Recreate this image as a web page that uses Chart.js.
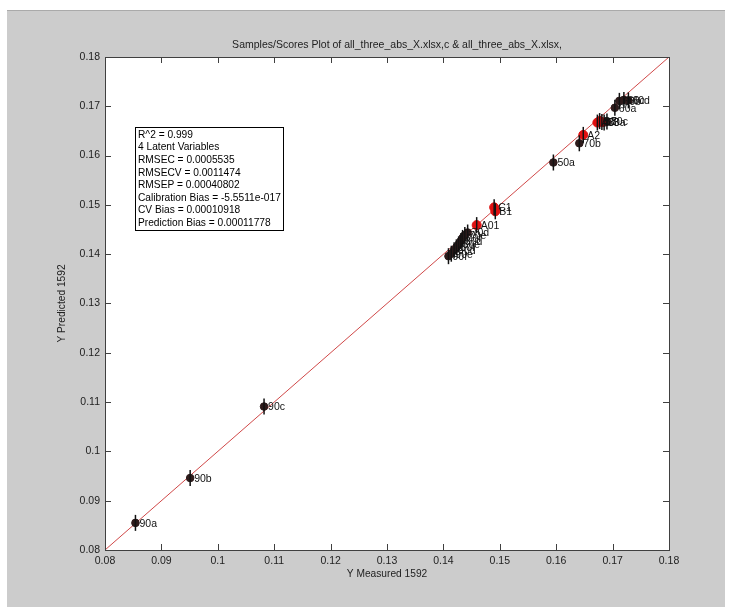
<!DOCTYPE html>
<html>
<head>
<meta charset="utf-8">
<script src="https://cdn.jsdelivr.net/npm/chart.js@4/dist/chart.umd.min.js"></script>
<style>
  body { margin: 0; background: #fff; }
  canvas { display: block; }
</style>
</head>
<body>
<canvas id="pls_chart" width="732" height="610"></canvas>
<script>
// calibration samples (black)
var cal_measured  = [0.0854, 0.0951, 0.1082, 0.1409, 0.1414, 0.1419, 0.1423, 0.1427, 0.1431, 0.1434, 0.1438, 0.1443, 0.1595, 0.1641, 0.1685, 0.1690, 0.1704, 0.1712, 0.1720, 0.1728]
var cal_predicted = [0.0855, 0.0946, 0.1091, 0.1396, 0.1401, 0.1408, 0.1414, 0.1420, 0.1427, 0.1433, 0.1439, 0.1444, 0.1586, 0.1625, 0.1667, 0.1669, 0.1697, 0.1711, 0.1713, 0.1712]
var cal_labels    = ["90a", "90b", "90c", "90f", "90e", "90d", "80f", "80e", "80d", "70f", "70e", "70d", "50a", "70b", "70a", "70c", "60a", "60b", "60c", "60d"]

// test samples (red)
var test_measured  = [0.1459, 0.1492, 0.1490, 0.1648, 0.1673, 0.1677, 0.1681]
var test_predicted = [0.1459, 0.1487, 0.1495, 0.1642, 0.1667, 0.1670, 0.1668]
var test_labels    = ["A01", "B1", "C1", "A2", "A3", "B3", "C3"]

var stats_lines = ["R^2 = 0.999", "4 Latent Variables", "RMSEC = 0.0005535", "RMSECV = 0.0011474",
  "RMSEP = 0.00040802", "Calibration Bias = -5.5511e-017", "CV Bias = 0.00010918", "Prediction Bias = 0.00011778"]

var axis_ticks = [0.08, 0.09, 0.1, 0.11, 0.12, 0.13, 0.14, 0.15, 0.16, 0.17, 0.18]
var fit_line = [0.08, 0.18]

var FONT = "Liberation Sans, Arial, sans-serif"

function toPoints(xs, ys) {
  return xs.map(function (x, i) { return { x: x, y: ys[i] } })
}

var calPts = toPoints(cal_measured, cal_predicted)
var testPts = toPoints(test_measured, test_predicted)

const figurePlugin = {
  id: "figure",
  beforeDraw(chart) {
    const ctx = chart.ctx
    const a = chart.chartArea
    ctx.save()
    ctx.fillStyle = "#fff"
    ctx.fillRect(0, 0, chart.width, chart.height)
    ctx.fillStyle = "#cccccc"
    ctx.fillRect(7, 10, 718, 597)
    ctx.strokeStyle = "#aaa"
    ctx.beginPath(); ctx.moveTo(7, 10.5); ctx.lineTo(725, 10.5); ctx.stroke()
    ctx.fillStyle = "#fff"
    ctx.fillRect(a.left, a.top, a.right - a.left, a.bottom - a.top)
    ctx.restore()
  },
  afterDraw(chart) {
    const ctx = chart.ctx
    const a = chart.chartArea
    const xs = chart.scales.x, ys = chart.scales.y
    ctx.save()
    // axes box
    ctx.strokeStyle = "#404040"
    ctx.lineWidth = 1
    ctx.strokeRect(a.left + 0.5, a.top + 0.5, a.right - a.left, a.bottom - a.top)
    // inward tick marks
    ctx.beginPath()
    axis_ticks.forEach(function (t) {
      var px = Math.round(xs.getPixelForValue(t)) + 0.5
      ctx.moveTo(px, a.bottom); ctx.lineTo(px, a.bottom - 6)
      ctx.moveTo(px, a.top); ctx.lineTo(px, a.top + 6)
      var py = Math.round(ys.getPixelForValue(t)) + 0.5
      ctx.moveTo(a.left, py); ctx.lineTo(a.left + 6, py)
      ctx.moveTo(a.right, py); ctx.lineTo(a.right - 6, py)
    })
    ctx.stroke()

    // title
    ctx.fillStyle = "#222"
    ctx.font = "10.5px " + FONT
    ctx.textAlign = "center"
    ctx.textBaseline = "middle"
    ctx.fillText("Samples/Scores Plot of all_three_abs_X.xlsx,c & all_three_abs_X.xlsx,", (a.left + a.right) / 2 + 10, 45)

    // point labels
    ctx.textAlign = "left"
    ctx.fillStyle = "#111"
    ctx.font = "10.5px " + FONT
    var lab = function (di, labels) {
      chart.getDatasetMeta(di).data.forEach(function (el, i) {
        ctx.fillText(labels[i], el.x + 4, el.y + 1)
      })
    }
    lab(1, test_labels)
    lab(2, cal_labels)

    // stats box
    var bx = a.left + 30, by = a.top + 70
    ctx.fillStyle = "#fff"
    ctx.fillRect(bx, by, 148, 103)
    ctx.strokeStyle = "#000"
    ctx.strokeRect(bx + 0.5, by + 0.5, 148, 103)
    ctx.fillStyle = "#000"
    ctx.font = "10.2px " + FONT
    stats_lines.forEach(function (s, i) {
      ctx.fillText(s, bx + 3, by + 8 + i * 12.6)
    })
    ctx.restore()
  }
}

const ctx = document.getElementById("pls_chart").getContext("2d")
const myChart = new Chart(ctx, {
  type: "scatter",
  data: {
    datasets: [
      {
        // error bars
        data: calPts.concat(testPts),
        pointStyle: "line",
        rotation: 90,
        radius: 8,
        borderColor: "#111",
        borderWidth: 1.5,
        backgroundColor: "#111"
      },
      {
        data: testPts,
        pointStyle: "circle",
        radius: 4.5,
        backgroundColor: "#e01010",
        borderColor: "#e01010",
        borderWidth: 1
      },
      {
        data: calPts,
        pointStyle: "circle",
        radius: 3.8,
        backgroundColor: "#2e1b1b",
        borderColor: "#2e1b1b",
        borderWidth: 1
      },
      {
        type: "line",
        data: toPoints(fit_line, fit_line),
        borderColor: "#d04848",
        borderWidth: 1,
        pointRadius: 0,
        fill: false
      }
    ]
  },
  options: {
    responsive: false,
    animation: false,
    layout: { padding: { top: 57, right: 63, left: 0, bottom: 0 } },
    plugins: {
      legend: { display: false },
      title: { display: false },
      tooltip: { enabled: false }
    },
    scales: {
      x: {
        type: "linear",
        min: 0.08, max: 0.18,
        afterFit: function (s) { s.height = 60 },
        afterBuildTicks: function (s) { s.ticks = axis_ticks.map(function (v) { return { value: v } }) },
        grid: { display: false, drawTicks: false },
        border: { display: false },
        ticks: {
          padding: 5,
          color: "#222",
          font: { family: FONT, size: 10.5 },
          callback: function (v) { return String(+v.toFixed(2)) }
        },
        title: {
          display: true,
          text: "Y Measured 1592",
          color: "#222",
          font: { family: FONT, size: 10.2 },
          padding: { top: 0, bottom: 30 }
        }
      },
      y: {
        type: "linear",
        min: 0.08, max: 0.18,
        afterFit: function (s) { s.width = 105 },
        afterBuildTicks: function (s) { s.ticks = axis_ticks.map(function (v) { return { value: v } }) },
        grid: { display: false, drawTicks: false },
        border: { display: false },
        ticks: {
          padding: 5,
          color: "#222",
          font: { family: FONT, size: 10.5 },
          callback: function (v) { return String(+v.toFixed(2)) }
        },
        title: {
          display: true,
          text: "Y Predicted 1592",
          color: "#222",
          font: { family: FONT, size: 10.2 },
          padding: { top: 56, bottom: 0 }
        }
      }
    }
  },
  plugins: [figurePlugin]
})
</script>
</body>
</html>
